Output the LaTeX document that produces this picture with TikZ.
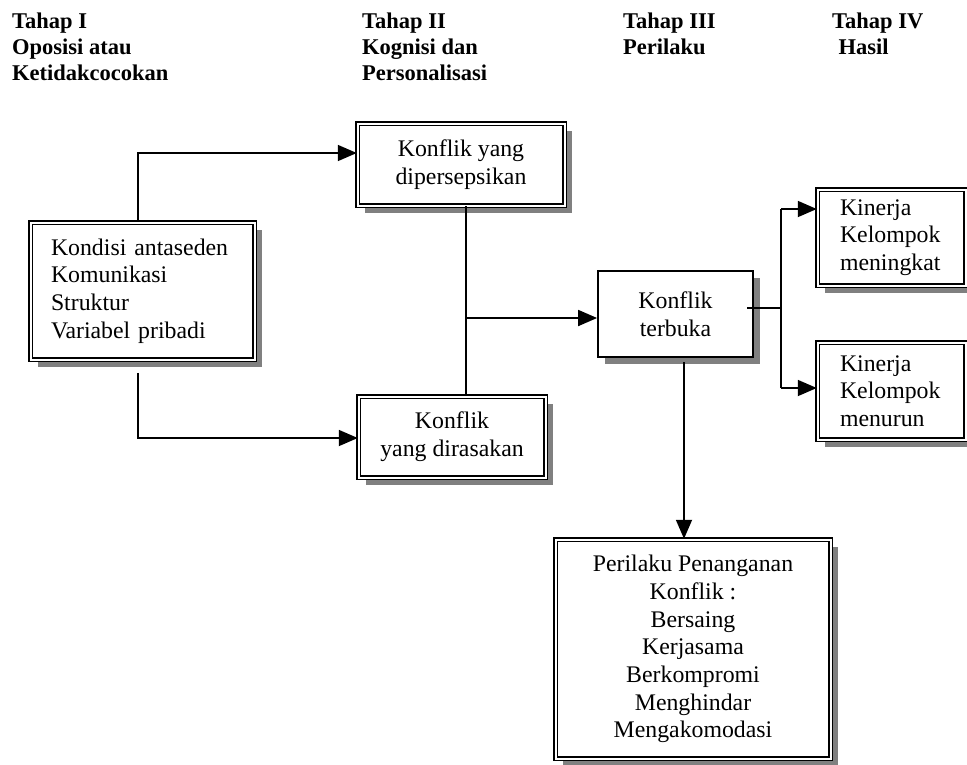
\documentclass[tikz,border=0pt]{standalone}
\usepackage{fontspec}
\setmainfont{Liberation Serif}
\usetikzlibrary{arrows.meta,shadows,calc}
\definecolor{shadowgray}{gray}{0.5}
\begin{document}
\begin{tikzpicture}[x=1pt,y=-1pt,
  every node/.style={font=\fontsize{23.8}{27.7}\selectfont, inner sep=0pt},
  dbox/.style={draw, double, line width=1.5pt, double distance=2pt, fill=white,
    drop shadow={shadow xshift=7.5pt, shadow yshift=-7.5pt, fill=shadowgray, opacity=1}},
  sbox/.style={draw, line width=1.8pt, fill=white,
    drop shadow={shadow xshift=6.9pt, shadow yshift=-6.9pt, fill=shadowgray, opacity=1}},
  hdr/.style={font=\fontsize{22.5}{26}\selectfont\bfseries, align=left, anchor=north west},
  conn/.style={line width=1.8pt},
  arr/.style={line width=1.8pt, -{Triangle[length=19pt,width=16pt]}}]
\useasboundingbox (0,0) rectangle (967,764);

% headers
\node[hdr] (h1) at (12,12.7) {Tahap I\\Oposisi atau\\Ketidakcocokan};
\node[hdr] (h2) at (362,12.7) {Tahap II\\Kognisi dan\\Personalisasi};
\node[hdr] (h3) at (623,12.7) {Tahap III\\Perilaku};
\node[hdr] (h4) at (832,12.7) {Tahap IV\\\hspace*{6.5pt}Hasil};

% boxes
\node[dbox, text width=183pt, inner xsep=20.5pt, minimum height=137pt, align=left] (A) at (142.5,291)
  {Kondisi antaseden\\Komunikasi\\Struktur\\Variabel pribadi};
\node[dbox, minimum width=207pt, minimum height=82pt, align=center] (B) at (461,164.5)
  {Konflik yang\\dipersepsikan};
\node[dbox, minimum width=187pt, minimum height=81pt, align=center] (C) at (452,437)
  {Konflik\\yang dirasakan};
\node[sbox, minimum width=155pt, minimum height=86pt, align=center] (T) at (675.5,314)
  {Konflik\\terbuka};
\node[dbox, text width=103pt, inner xsep=22.5pt, minimum height=96pt, align=left] (K1) at (891.5,237.5)
  {Kinerja\\Kelompok\\meningkat};
\node[dbox, text width=103pt, inner xsep=22.5pt, minimum height=97pt, align=left] (K2) at (891.5,391)
  {Kinerja\\Kelompok\\menurun};
\node[dbox, minimum width=275pt, minimum height=219pt, align=center] (D) at (693,649)
  {Perilaku Penanganan\\Konflik :\\Bersaing\\Kerjasama\\Berkompromi\\Menghindar\\Mengakomodasi};

% connectors
\draw[arr] ([xshift=-4.5pt]A.north) |- ([yshift=11.5pt]B.west);
\draw[arr] ([xshift=-4.5pt,yshift=-12.5pt]A.south) |- ([yshift=-1pt]C.west);
\coordinate (bc) at (466,318);
\draw[conn] (B.south -| bc) -- (C.north -| bc);
\draw[arr] (bc) -- (T.west |- bc);
\coordinate (ts) at (747,308);
\coordinate (tr) at (781,308);
\coordinate (k1) at (781,209);
\coordinate (k2) at (781,388);
\draw[conn] (ts) -- (tr);
\draw[conn] (k1) -- (k2);
\draw[arr] (k1) -- (K1.west |- k1);
\draw[arr] (k2) -- (K2.west |- k2);
\coordinate (td) at (684,362);
\draw[arr] (td) -- (D.north -| td);
\end{tikzpicture}
\end{document}
